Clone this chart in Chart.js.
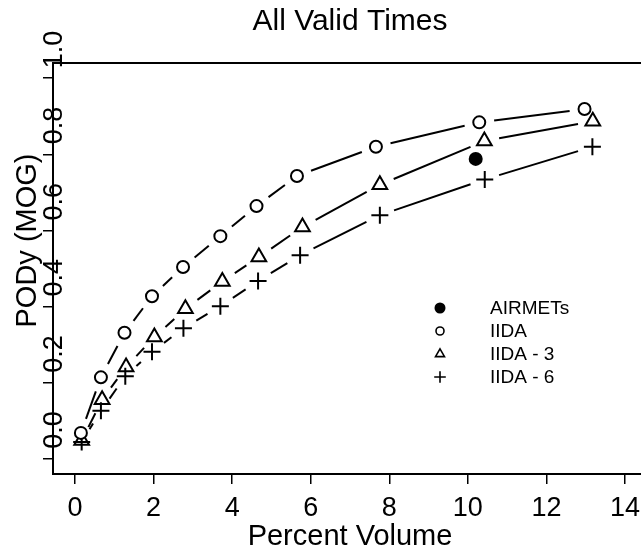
<!DOCTYPE html>
<html>
<head>
<meta charset="utf-8">
<script src="https://cdn.jsdelivr.net/npm/chart.js@4/dist/chart.umd.min.js"></script>
<style>
  html, body { margin: 0; padding: 0; overflow: hidden; background: #fff; }
  #caixa { width: 641px; height: 554px; overflow: hidden; }
</style>
</head>
<body>
<div id="caixa"><canvas id="grafico" width="660" height="554"></canvas></div>
<script>
// Dados
const iidaX = [0.15, 0.66, 1.26, 1.96, 2.75, 3.70, 4.62, 5.65, 7.66, 10.29, 12.97];
const iidaY = [0.068, 0.214, 0.331, 0.427, 0.504, 0.585, 0.664, 0.743, 0.820, 0.884, 0.919];
const iida3X = [0.17, 0.69, 1.30, 2.02, 2.81, 3.75, 4.68, 5.79, 7.76, 10.42, 13.18];
const iida3Y = [0.048, 0.155, 0.241, 0.320, 0.394, 0.466, 0.530, 0.609, 0.720, 0.835, 0.887];
const iida6X = [0.17, 0.66, 1.28, 1.96, 2.76, 3.70, 4.66, 5.73, 7.76, 10.43, 13.17];
const iida6Y = [0.044, 0.126, 0.217, 0.281, 0.343, 0.401, 0.467, 0.535, 0.640, 0.734, 0.820];
const airmetX = [10.20];
const airmetY = [0.788];

const xTicks = [0, 2, 4, 6, 8, 10, 12, 14];
const yTicks = [0, 0.2, 0.4, 0.6, 0.8, 1.0];
const yLabels = ["0.0", "0.2", "0.4", "0.6", "0.8", "1.0"];

const FONTE = '"Liberation Sans", Arial, Helvetica, sans-serif';
const GAP = 15; // folga das linhas em volta dos marcadores (tipo "b")

function pares(xs, ys) {
  return xs.map((x, i) => ({ x: x, y: ys[i] }));
}

// Desenha um marcador pequeno para a legenda
function marcador(ctx, estilo, x, y, r) {
  ctx.beginPath();
  if (estilo === "cheio") {
    ctx.arc(x, y, r, 0, Math.PI * 2);
    ctx.fill();
    return;
  }
  if (estilo === "circulo") {
    ctx.arc(x, y, r, 0, Math.PI * 2);
  } else if (estilo === "triangulo") {
    const rr = r * 1.3;
    ctx.moveTo(x, y - rr);
    ctx.lineTo(x + rr * 0.866, y + rr / 2);
    ctx.lineTo(x - rr * 0.866, y + rr / 2);
    ctx.closePath();
  } else {
    const rr = r * 1.45;
    ctx.moveTo(x - rr, y); ctx.lineTo(x + rr, y);
    ctx.moveTo(x, y - rr); ctx.lineTo(x, y + rr);
  }
  ctx.stroke();
}

// Linhas interrompidas entre os pontos
const linhasComFolga = {
  id: "linhasComFolga",
  beforeDatasetsDraw(chart) {
    const ctx = chart.ctx;
    ctx.save();
    ctx.strokeStyle = "#000";
    ctx.lineWidth = 2;
    chart.data.datasets.forEach((ds, i) => {
      if (!ds.ligar) return;
      const pts = chart.getDatasetMeta(i).data;
      for (let j = 1; j < pts.length; j++) {
        const a = pts[j - 1], b = pts[j];
        const dx = b.x - a.x, dy = b.y - a.y;
        const len = Math.hypot(dx, dy);
        if (len <= 2 * GAP) continue;
        const ux = dx / len, uy = dy / len;
        ctx.beginPath();
        ctx.moveTo(a.x + ux * GAP, a.y + uy * GAP);
        ctx.lineTo(b.x - ux * GAP, b.y - uy * GAP);
        ctx.stroke();
      }
    });
    ctx.restore();
  }
};

// Moldura, rotulos girados do eixo y e legenda
const extras = {
  id: "extras",
  afterDraw(chart) {
    const ctx = chart.ctx;
    const area = chart.chartArea;
    const escalaY = chart.scales.y;
    ctx.save();
    ctx.strokeStyle = "#000";
    ctx.fillStyle = "#000";
    ctx.lineWidth = 2;
    ctx.strokeRect(area.left, area.top, area.right - area.left, area.bottom - area.top);

    ctx.font = "27px " + FONTE;
    ctx.textAlign = "left";
    ctx.textBaseline = "alphabetic";
    yTicks.forEach((v, i) => {
      const py = escalaY.getPixelForValue(v);
      ctx.save();
      ctx.translate(escalaY.right + 9, py - 10);
      ctx.rotate(-Math.PI / 2);
      ctx.fillText(yLabels[i], 0, 0);
      ctx.restore();
    });

    ctx.save();
    ctx.font = "29px " + FONTE;
    ctx.textAlign = "center";
    ctx.translate(36, (area.top + area.bottom) / 2 - 28);
    ctx.rotate(-Math.PI / 2);
    ctx.fillText("PODy (MOG)", 0, 0);
    ctx.restore();

    // legenda
    ctx.font = "19px " + FONTE;
    ctx.textBaseline = "middle";
    ctx.textAlign = "left";
    ctx.lineWidth = 1.6;
    const estilos = ["cheio", "circulo", "triangulo", "cruz"];
    const ordem = [3, 0, 1, 2];
    ordem.forEach((idx, k) => {
      const y = 308 + k * 23;
      marcador(ctx, estilos[k], 440, y, k === 0 ? 5.5 : 4);
      ctx.fillText(chart.data.datasets[idx].label, 490, y + 1);
    });
    ctx.restore();
  }
};

const baseDs = { borderColor: "#000", borderWidth: 2, showLine: false, pointHoverRadius: 6 };

new Chart(document.getElementById("grafico"), {
  type: "scatter",
  data: {
    datasets: [
      Object.assign({}, baseDs, { label: "IIDA", data: pares(iidaX, iidaY), ligar: true,
        pointStyle: "circle", pointRadius: 6, backgroundColor: "#fff" }),
      Object.assign({}, baseDs, { label: "IIDA - 3", data: pares(iida3X, iida3Y), ligar: true,
        pointStyle: "triangle", pointRadius: 8.5, backgroundColor: "rgba(0,0,0,0)" }),
      Object.assign({}, baseDs, { label: "IIDA - 6", data: pares(iida6X, iida6Y), ligar: true,
        pointStyle: "cross", pointRadius: 8.5, backgroundColor: "rgba(0,0,0,0)" }),
      Object.assign({}, baseDs, { label: "AIRMETs", data: pares(airmetX, airmetY), ligar: false,
        pointStyle: "circle", pointRadius: 7, borderWidth: 0, backgroundColor: "#000" })
    ]
  },
  options: {
    responsive: false,
    animation: false,
    devicePixelRatio: 1,
    layout: { padding: { left: 0, top: 0, right: 13, bottom: 0 } },
    plugins: {
      legend: { display: false },
      tooltip: { enabled: false },
      title: {
        display: true, text: "All Valid Times", color: "#000", fullSize: false,
        font: { family: FONTE, size: 30, weight: "normal" },
        padding: { top: 4, bottom: 23 }
      }
    },
    scales: {
      x: {
        type: "linear", min: -0.56, max: 14.56,
        afterBuildTicks: s => { s.ticks = xTicks.map(v => ({ value: v })); },
        afterFit: s => { s.height = 80; },
        ticks: { color: "#000", font: { family: FONTE, size: 27 }, padding: 8, maxRotation: 0, autoSkip: false },
        grid: { drawOnChartArea: false, drawTicks: true, tickLength: 10, color: "#000", lineWidth: 1.5 },
        border: { display: false },
        title: { display: true, text: "Percent Volume", color: "#000", font: { family: FONTE, size: 29 }, padding: { top: 0, bottom: 0 } }
      },
      y: {
        type: "linear", min: -0.04, max: 1.04,
        afterBuildTicks: s => { s.ticks = yTicks.map(v => ({ value: v })); },
        afterFit: s => { s.width = 53; },
        ticks: { display: false },
        grid: { drawOnChartArea: false, drawTicks: true, tickLength: 10, color: "#000", lineWidth: 1.5 },
        border: { display: false }
      }
    }
  },
  plugins: [linhasComFolga, extras]
});
</script>
</body>
</html>
